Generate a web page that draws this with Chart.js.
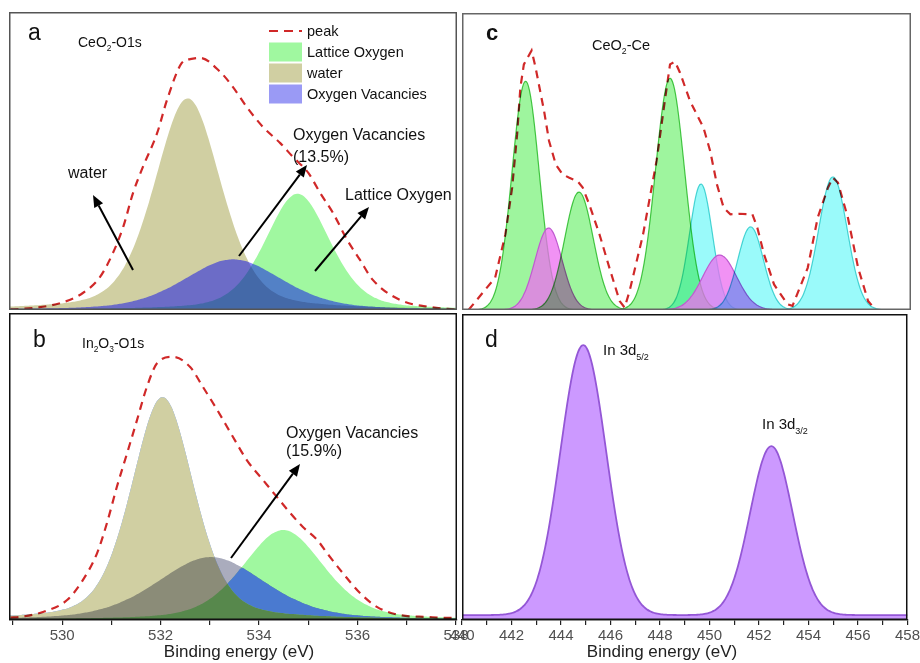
<!DOCTYPE html>
<html>
<head>
<meta charset="utf-8">
<title>XPS spectra</title>
<script src="https://cdn.jsdelivr.net/npm/chart.js@4.4.0/dist/chart.umd.min.js"></script>
<style>
  html, body { margin: 0; padding: 0; background: #fff; overflow: hidden; }
  body { width: 920px; height: 663px; position: relative; }
  canvas { position: absolute; }
</style>
</head>
<body>
<canvas id="panelA" style="left:9px;top:12px;width:448px;height:298px" width="448" height="298"></canvas>
<canvas id="panelB" style="left:9px;top:313px;width:470px;height:350px" width="470" height="350"></canvas>
<canvas id="panelC" style="left:462px;top:13px;width:449px;height:297px" width="449" height="297"></canvas>
<canvas id="panelD" style="left:440px;top:314px;width:482px;height:349px" width="482" height="349"></canvas>
<script>
// ===================================
// SPECTRAL DATA (fit components: centre eV, height %, FWHM eV)
// ===================================
const O1S_ETA = 0.35;            // Lorentzian share of the O1s line shape

// a: CeO2 O1s  -> [Lattice Oxygen, water, Oxygen Vacancies]
const ceO1sCenter = [534.78, 532.55, 533.47];
const ceO1sHeight = [39, 71, 17];
const ceO1sFwhm   = [1.55, 1.6, 2.37];
// a: measured envelope ("peak")
const ceO1sEnvX = [528.95, 529.41, 529.96, 530.42, 530.77, 531.03, 531.24, 531.44, 531.64, 531.93,
                   532.13, 532.43, 532.60, 532.80, 533.21, 533.47, 533.75, 534.08, 534.43, 534.69,
                   535.00, 535.24, 535.50, 535.79, 536.05, 536.31, 536.86, 537.47, 537.88, 538.0];
const ceO1sEnvY = [0.2, 0.7, 2.3, 5.7, 11.1, 19.1, 27.9, 39.3, 48.0, 59.4,
                   70.5, 82.9, 84.2, 84.6, 79.9, 74.8, 68.1, 61.4, 56.0, 51.3,
                   46.0, 39.3, 32.6, 23.5, 16.8, 10.1, 3.4, 1.0, 0.3, 0.2];

// b: In2O3 O1s -> [Lattice Oxygen, water, Oxygen Vacancies]
const inO1sCenter = [534.49, 532.04, 533.02];
const inO1sHeight = [29.3, 72.6, 20.5];
const inO1sFwhm   = [1.95, 1.5, 2.6];
// b: measured envelope ("peak")
const inO1sEnvX = [528.95, 529.14, 529.61, 530.10, 530.42, 530.71, 530.91, 531.11, 531.32, 531.52,
                   531.72, 531.93, 532.25, 532.60, 532.86, 533.15, 533.47, 533.75, 534.08, 534.36,
                   534.63, 534.89, 535.18, 535.38, 535.70, 536.05, 536.40, 536.86, 537.41, 537.82, 538.0];
const inO1sEnvY = [0.8, 1.0, 2.6, 6.5, 13.0, 21.8, 31.6, 43.3, 54.4, 65.1,
                   75.9, 83.7, 85.7, 82.4, 75.9, 68.4, 59.6, 52.1, 45.6, 40.1,
                   34.9, 30.3, 26.1, 21.8, 15.3, 8.8, 4.2, 1.6, 1.0, 0.7, 0.7];

// c: CeO2 Ce 3d components
const ce3dKind   = ['green', 'magenta', 'green', 'green', 'cyan', 'magenta', 'cyan', 'cyan'];
const ce3dCenter = [442.55, 443.47, 444.69, 448.34, 449.58, 450.33, 451.57, 454.87];
const ce3dHeight = [77, 27.6, 39.7, 78, 42.4, 18.5, 28, 44.8];
const ce3dFwhm   = [1.28, 1.28, 1.35, 1.37, 1.08, 1.6, 1.21, 1.35];

// c: measured envelope ("peak")
const ce3dEnvX = [440.26, 441.33, 441.74, 442.01, 442.21, 442.34, 442.48, 442.79, 442.95, 443.29,
                  443.49, 443.76, 444.03, 444.30, 444.63, 444.84, 445.10, 445.51, 445.91, 446.32,
                  446.52, 446.72, 447.26, 447.80, 448.13, 448.34, 448.54, 448.74, 449.14, 449.41,
                  449.68, 449.95, 450.22, 450.49, 450.76, 451.10, 451.64, 451.84, 452.11, 452.51,
                  453.05, 453.25, 453.86, 454.26, 454.67, 454.87, 455.07, 455.47, 455.88, 456.28, 456.55];
const ce3dEnvY = [0, 10.9, 25.5, 41.2, 59.2, 74.9, 82.7, 87.4, 81.6, 67.0,
                  56.9, 49.0, 45.7, 44.5, 43.4, 41.2, 35.6, 25.5, 14.2, 3.0,
                  0.8, 6.4, 25.5, 50.2, 70.4, 82.7, 83.6, 79.9, 70.4, 65.9,
                  61.4, 53.5, 42.3, 34.4, 32.2, 32.4, 32.2, 27.7, 18.7, 8.6,
                  1.9, 1.4, 14.2, 31.1, 41.2, 44.5, 42.9, 31.1, 14.2, 3.0, 0.4];

// d: In 3d doublet
const in3dCenter = [444.9, 452.5];
const in3dHeight = [88.2, 55.2];
const in3dFwhm   = [2.18, 2.02];
const in3dBase   = 1.6;

// axis ranges
const o1sRange = [528.92, 538.02];
const in3dRange = [440, 458];

const FONT = "'Liberation Sans', Arial, sans-serif";

// ===================================
// HELPERS
// ===================================
function energies(lo, hi, step) {
    const out = [];
    for (let e = lo; e <= hi + 1e-9; e += step) out.push(+e.toFixed(3));
    return out;
}
function lineShape(x, c, h, w, eta) {
    const d = (x - c) / w;
    return h * ((1 - eta) * Math.exp(-4 * Math.LN2 * d * d) + eta / (1 + 4 * d * d));
}
function component(xs, c, h, w, eta, base = 0) {
    return xs.map(x => ({ x, y: base + lineShape(x, c, h, w, eta) }));
}
const points = (xs, ys) => xs.map((x, i) => ({ x, y: ys[i] }));

function drawRuns(ctx, x, y, runs, size, color, weight = '') {
    ctx.save();
    ctx.fillStyle = color;
    ctx.textAlign = 'left';
    ctx.textBaseline = 'alphabetic';
    let cx = x;
    for (const [t, kind] of runs) {
        const s = kind ? size * 0.6 : size;
        ctx.font = `${weight} ${s}px ${FONT}`;
        ctx.fillText(t, cx, y + (kind === 'sub' ? size * 0.3 : 0));
        cx += ctx.measureText(t).width;
    }
    ctx.restore();
}
function axisTitle(ctx, cx, cy) {
    ctx.save();
    ctx.fillStyle = '#222';
    ctx.font = `17px ${FONT}`;
    ctx.textAlign = 'center';
    ctx.textBaseline = 'middle';
    ctx.fillText('Binding energy (eV)', cx, cy);
    ctx.restore();
}
function arrow(ctx, x0, y0, x1, y1) {
    const a = Math.atan2(y1 - y0, x1 - x0), head = 12, half = 5;
    const bx = x1 - head * Math.cos(a), by = y1 - head * Math.sin(a);
    ctx.save();
    ctx.strokeStyle = ctx.fillStyle = '#000';
    ctx.lineWidth = 2;
    ctx.beginPath(); ctx.moveTo(x0, y0); ctx.lineTo(bx, by); ctx.stroke();
    ctx.beginPath();
    ctx.moveTo(x1, y1);
    ctx.lineTo(bx - half * Math.sin(a), by + half * Math.cos(a));
    ctx.lineTo(bx + half * Math.sin(a), by - half * Math.cos(a));
    ctx.closePath(); ctx.fill();
    ctx.restore();
}

// datasets are painted from last index to first; each one may carry its own blend mode
function applyBlend(chart, i) {
    const ds = chart.data.datasets[i];
    chart.ctx.globalCompositeOperation = (ds && ds.blend) || 'source-over';
}
const blendPlugin = {
    id: 'blend',
    beforeDatasetsDraw(chart) { applyBlend(chart, chart.data.datasets.length - 1); },
    afterDatasetDraw(chart, args) { applyBlend(chart, args.index - 1); },
    afterDatasetsDraw(chart) { chart.ctx.globalCompositeOperation = 'source-over'; }
};
function framePlugin(color) {
    return {
        id: 'frame',
        afterDraw(chart) {
            const { left, top, right, bottom } = chart.chartArea, ctx = chart.ctx;
            ctx.save();
            ctx.strokeStyle = color;
            ctx.lineWidth = 1.5;
            ctx.strokeRect(left + 0.75, top + 0.75, right - left - 1.5, bottom - top - 1.5);
            ctx.restore();
        }
    };
}

function panelOptions(range, withAxis, padding) {
    const x = { type: 'linear', min: range[0], max: range[1], display: withAxis };
    if (withAxis) {
        Object.assign(x, {
            ticks: {
                stepSize: 1, includeBounds: false, autoSkip: false, maxRotation: 0,
                color: '#505050', padding: 2, font: { family: FONT, size: 15 },
                callback: v => (v % 2 === 0 ? v : '')
            },
            grid: { drawOnChartArea: false, drawTicks: true, tickLength: 5, color: '#222', lineWidth: 1.2 },
            border: { display: true, color: '#222', width: 1.5 },
            afterFit: scale => { scale.height = 43; }   // room for the title drawn below
        });
    }
    return {
        responsive: false,
        maintainAspectRatio: false,
        animation: false,
        events: [],
        layout: { padding: padding || 0 },
        elements: { point: { radius: 0 }, line: { tension: 0, cubicInterpolationMode: 'monotone' } },
        plugins: { legend: { display: false }, tooltip: { enabled: false } },
        scales: { x, y: { display: false, min: 0, max: 100 } }
    };
}

const CLEAR = 'rgba(0,0,0,0)';
const PEAK_RED = '#d02828';
const GREEN = '#a0f8a0', KHAKI = '#d0cfa2', VAC_KEY = '#9a9af5';
const envelopeStyle = {
    borderColor: PEAK_RED, borderWidth: 2.2, borderDash: [8, 6], fill: false, blend: 'multiply'
};

// ===================================
// a: CeO2 O1s
// ===================================
const oX = energies(o1sRange[0], o1sRange[1], 0.05);
const aComp = ceO1sCenter.map((c, i) => component(oX, c, ceO1sHeight[i], ceO1sFwhm[i], O1S_ETA));

new Chart(document.getElementById('panelA'), {
    type: 'line',
    data: {
        datasets: [
            { label: 'peak', data: points(ceO1sEnvX, ceO1sEnvY), ...envelopeStyle },
            { label: 'Oxygen Vacancies', data: aComp[2], backgroundColor: 'rgba(0,0,240,0.48)', borderColor: CLEAR, borderWidth: 0, fill: 'origin' },
            { label: 'Lattice Oxygen', data: aComp[0], backgroundColor: GREEN, borderColor: CLEAR, borderWidth: 0, fill: 'origin', blend: 'multiply' },
            { label: 'water', data: aComp[1], backgroundColor: KHAKI, borderColor: CLEAR, borderWidth: 0, fill: 'origin' }
        ]
    },
    options: panelOptions(o1sRange, false),
    plugins: [blendPlugin, framePlugin('#555'), {
        id: 'notesA',
        afterDraw(chart) {
            const ctx = chart.ctx;
            drawRuns(ctx, 19, 28, [['a']], 23, '#111');
            drawRuns(ctx, 69, 35, [['CeO'], ['2', 'sub'], ['-O1s']], 14, '#111');
            // key
            ctx.save();
            ctx.strokeStyle = PEAK_RED; ctx.lineWidth = 2.2; ctx.setLineDash([9, 6]);
            ctx.beginPath(); ctx.moveTo(260, 19); ctx.lineTo(293, 19); ctx.stroke();
            ctx.setLineDash([]);
            [[GREEN, 40], [KHAKI, 61], [VAC_KEY, 82]].forEach(([c, y]) => {
                ctx.fillStyle = c; ctx.fillRect(260, y - 9.5, 33, 19);
            });
            ctx.restore();
            const keyText = ['peak', 'Lattice Oxygen', 'water', 'Oxygen Vacancies'];
            [19, 40, 61, 82].forEach((y, i) => drawRuns(ctx, 298, y + 5, [[keyText[i]]], 14.5, '#111'));
            // callouts
            drawRuns(ctx, 59, 166, [['water']], 16, '#111');
            drawRuns(ctx, 284, 128, [['Oxygen Vacancies']], 16, '#111');
            drawRuns(ctx, 284, 150, [['(13.5%)']], 16, '#111');
            drawRuns(ctx, 336, 188, [['Lattice Oxygen']], 16, '#111');
            arrow(ctx, 124, 258, 84, 183);
            arrow(ctx, 230, 244, 298, 153);
            arrow(ctx, 306, 259, 360, 195);
        }
    }]
});

// ===================================
// b: In2O3 O1s
// ===================================
const bComp = inO1sCenter.map((c, i) => component(oX, c, inO1sHeight[i], inO1sFwhm[i], O1S_ETA));
const bVacOverLattice = bComp[2].map((p, k) => ({ x: p.x, y: Math.min(p.y, bComp[0][k].y) }));

new Chart(document.getElementById('panelB'), {
    type: 'line',
    data: {
        datasets: [
            { label: 'peak', data: points(inO1sEnvX, inO1sEnvY), ...envelopeStyle },
            { label: 'vacancy/lattice', data: bVacOverLattice, borderColor: CLEAR, borderWidth: 0, fill: { target: 4, above: '#4a7ad0', below: CLEAR } },
            { label: 'Oxygen Vacancies', data: bComp[2], backgroundColor: '#aaacbd', borderColor: CLEAR, borderWidth: 0, fill: 'origin', blend: 'multiply' },
            { label: 'Lattice Oxygen', data: bComp[0], backgroundColor: GREEN, borderColor: CLEAR, borderWidth: 0, fill: 'origin', blend: 'multiply' },
            { label: 'water', data: bComp[1], backgroundColor: KHAKI, borderColor: CLEAR, borderWidth: 0, fill: 'origin' }
        ]
    },
    options: panelOptions(o1sRange, true, { right: 22 }),
    plugins: [blendPlugin, framePlugin('#111'), {
        id: 'notesB',
        afterDraw(chart) {
            const ctx = chart.ctx;
            drawRuns(ctx, 24, 34, [['b']], 23, '#111');
            drawRuns(ctx, 73, 35, [['In'], ['2', 'sub'], ['O'], ['3', 'sub'], ['-O1s']], 14, '#111');
            drawRuns(ctx, 277, 125, [['Oxygen Vacancies']], 16, '#111');
            drawRuns(ctx, 277, 143, [['(15.9%)']], 16, '#111');
            arrow(ctx, 222, 245, 291, 151);
            axisTitle(ctx, 230, 339);
        }
    }]
});

// ===================================
// c: CeO2 Ce 3d
// ===================================
const dX = energies(in3dRange[0], in3dRange[1], 0.05);
const ceStyle = {
    green:   { fill: '#9ef59e', line: '#50c850', blend: 'multiply' },
    magenta: { fill: 'rgba(236,110,240,0.75)', line: '#c05ad0', blend: 'source-over' },
    cyan:    { fill: '#9afafa', line: '#55d5d5', blend: 'multiply' }
};
const ce3dSets = ce3dCenter.map((c, i) => {
    const st = ceStyle[ce3dKind[i]];
    return {
        label: ce3dKind[i],
        data: component(dX, c, ce3dHeight[i], ce3dFwhm[i], 0),
        backgroundColor: st.fill, borderColor: st.line, borderWidth: 1.2,
        fill: 'origin', blend: st.blend
    };
});

new Chart(document.getElementById('panelC'), {
    type: 'line',
    data: {
        // envelope on top, low-energy components painted first
        datasets: [
            { label: 'peak', data: points(ce3dEnvX, ce3dEnvY), ...envelopeStyle, cubicInterpolationMode: 'default' },
            ...ce3dSets.reverse()
        ]
    },
    options: panelOptions(in3dRange, false),
    plugins: [blendPlugin, framePlugin('#666'), {
        id: 'notesC',
        afterDraw(chart) {
            const ctx = chart.ctx;
            drawRuns(ctx, 24, 27, [['c']], 22, '#111', 'bold');
            drawRuns(ctx, 130, 37, [['CeO'], ['2', 'sub'], ['-Ce']], 14.5, '#111');
        }
    }]
});

// ===================================
// d: In 3d
// ===================================
const in3dComp = in3dCenter.map((c, i) => component(dX, c, in3dHeight[i], in3dFwhm[i], 0));
const in3dSpectrum = in3dComp[0].map((p, k) => ({ x: p.x, y: in3dBase + in3dComp[0][k].y + in3dComp[1][k].y }));

new Chart(document.getElementById('panelD'), {
    type: 'line',
    data: {
        datasets: [{
            label: 'In 3d', data: in3dSpectrum,
            backgroundColor: '#cc99ff', borderColor: '#9457d6', borderWidth: 1.8, fill: 'origin'
        }]
    },
    options: panelOptions(in3dRange, true, { left: 22, right: 12 }),
    plugins: [framePlugin('#111'), {
        id: 'notesD',
        afterDraw(chart) {
            const ctx = chart.ctx;
            drawRuns(ctx, 45, 33, [['d']], 23, '#111');
            drawRuns(ctx, 163, 41, [['In 3d'], ['5/2', 'sub']], 15, '#111');
            drawRuns(ctx, 322, 115, [['In 3d'], ['3/2', 'sub']], 15, '#111');
            axisTitle(ctx, 222, 338);
        }
    }]
});
</script>
</body>
</html>
